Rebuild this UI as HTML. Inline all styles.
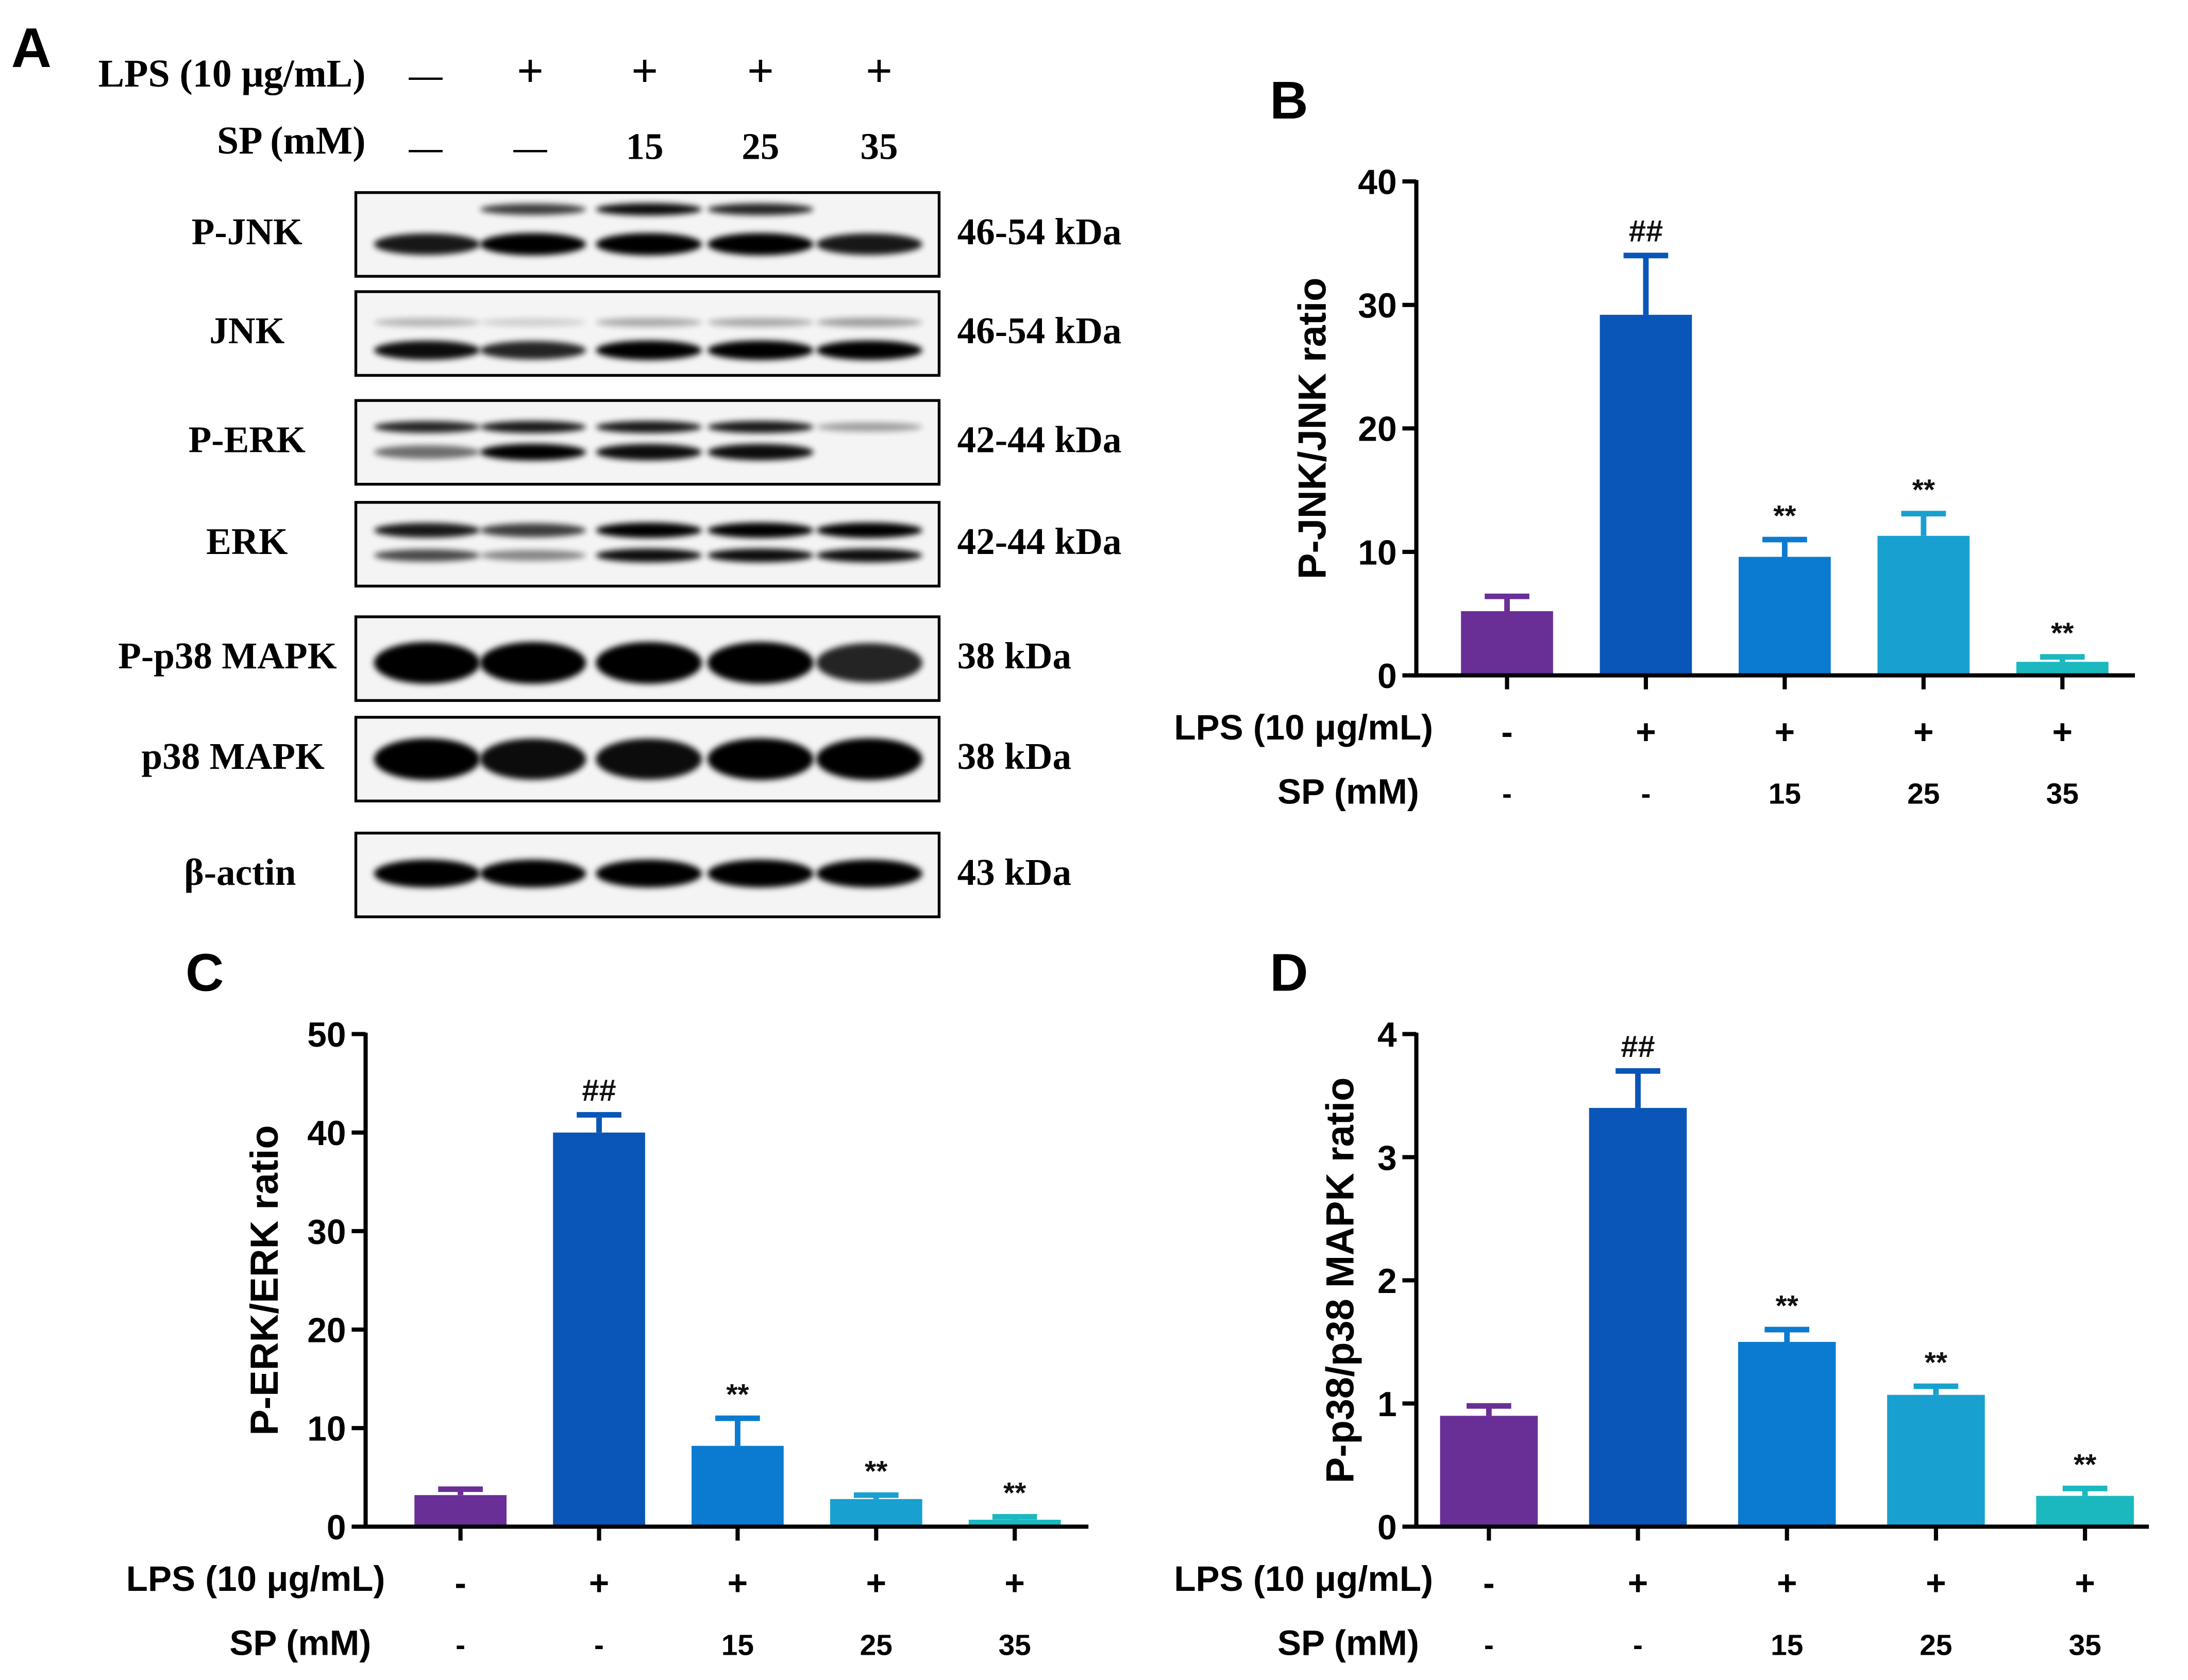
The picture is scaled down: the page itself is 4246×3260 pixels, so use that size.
<!DOCTYPE html>
<html><head><meta charset="utf-8"><style>
html,body{margin:0;padding:0;background:#fff;}
svg{display:block;}
.ser{font-family:"Liberation Serif",serif;font-weight:bold;}
.san{font-family:"Liberation Sans",sans-serif;font-weight:bold;}
</style></head><body>
<svg id="fig" width="4246" height="3260" viewBox="0 0 1568 1203.9" xmlns="http://www.w3.org/2000/svg">
<defs>
<filter id="blur" x="-20%" y="-50%" width="140%" height="200%"><feGaussianBlur stdDeviation="2.2"/></filter>
</defs>
<rect width="1600" height="1220" fill="#fff"/>
<g id="panelA"></g>
<g id="panelB"></g>
<g id="panelC"></g>
<g id="panelD"></g>
</svg>
<script>
const NS="http://www.w3.org/2000/svg";
function mk(parent,tag,attrs,text){const e=document.createElementNS(NS,tag);for(const k in attrs)e.setAttribute(k,attrs[k]);if(text!==undefined)e.textContent=text;parent.appendChild(e);return e;}

// ---- chart data ----
const lpsLabels=["-","+","+","+","+"];
const spLabels=["-","-","15","25","35"];
const colors=["#6a2f96","#0a55b8","#0a7bd0","#18a0d0","#1bb8c0"];
const jnkValues=[5.2,29.2,9.6,11.3,1.1];
const jnkErrors=[1.2,4.8,1.4,1.8,0.4];
const jnkMarks=["","##","**","**","**"];
const jnkTicks=[0,10,20,30,40];
const erkValues=[3.2,40,8.2,2.8,0.7];
const erkErrors=[0.6,1.8,2.8,0.4,0.3];
const erkMarks=["","##","**","**","**"];
const erkTicks=[0,10,20,30,40,50];
const p38Values=[0.9,3.4,1.5,1.07,0.25];
const p38Errors=[0.08,0.3,0.1,0.07,0.06];
const p38Marks=["","##","**","**","**"];
const p38Ticks=[0,1,2,3,4];

function chart(g,cfg){
  const ymax=cfg.ticks[cfg.ticks.length-1];
  const y=v=>cfg.y0-(v/ymax)*(cfg.y0-cfg.y1);
  const x=i=>cfg.xs+i*cfg.dx;
  mk(g,"text",{x:cfg.lx,y:cfg.ly,"font-size":38,class:"san",},cfg.letter);
  cfg.values.forEach((v,i)=>{
    const cx=x(i);
    const top=y(v+cfg.errors[i]);
    const b=mk(g,"rect",{x:cx-cfg.bw/2,y:y(v),width:cfg.bw,height:cfg.y0-y(v),fill:colors[i]});
    
    
    const e=mk(g,"path",{d:`M${cx} ${y(v)}V${top}M${cx-16} ${top}H${cx+16}`,stroke:colors[i],"stroke-width":4,fill:"none"});
    
    
    if(cfg.marks[i]){const t=mk(g,"text",{x:cx,y:top-10,"text-anchor":"middle","font-size":cfg.marks[i]=="##"?22:21,class:"san",fill:"#111"},cfg.marks[i]);
      
      }
    mk(g,"line",{x1:cx,y1:cfg.y0,x2:cx,y2:cfg.y0+10,stroke:"#000","stroke-width":3});
    const l=mk(g,"text",{x:cx,y:cfg.y0+49,"text-anchor":"middle","font-size":25,class:"san"},lpsLabels[i]);
    
    
    const s=mk(g,"text",{x:cx,y:cfg.y0+92,"text-anchor":"middle","font-size":21,class:"san"},spLabels[i]);
    
    
  });
  mk(g,"line",{x1:cfg.ax,y1:cfg.y1-1,x2:cfg.ax,y2:cfg.y0+1.5,stroke:"#000","stroke-width":3,});
  mk(g,"line",{x1:cfg.ax-1.5,y1:cfg.y0,x2:cfg.xe,y2:cfg.y0,stroke:"#000","stroke-width":3,});
  cfg.ticks.forEach(t=>{
    mk(g,"line",{x1:cfg.ax-10,y1:y(t),x2:cfg.ax,y2:y(t),stroke:"#000","stroke-width":3});
    const tl=mk(g,"text",{x:cfg.ax-14,y:y(t)+9,"text-anchor":"end","font-size":25,class:"san"},t);
    
    
  });
  mk(g,"text",{transform:`translate(${cfg.tx},${(cfg.y0+cfg.y1)/2}) rotate(-90)`,"text-anchor":"middle","font-size":28,class:"san",},cfg.title);
  mk(g,"text",{x:cfg.lpx,y:cfg.y0+46,"text-anchor":"end","font-size":25.5,class:"san",},"LPS (10 μg/mL)");
  mk(g,"text",{x:cfg.lpx-10,y:cfg.y0+92,"text-anchor":"end","font-size":25.5,class:"san",},"SP (mM)");
}
chart(document.getElementById("panelB"),{letter:"B",lx:910,ly:85,values:jnkValues,errors:jnkErrors,marks:jnkMarks,ticks:jnkTicks,y0:484,y1:130,ax:1015,xe:1530,xs:1080,dx:99.5,bw:66,tx:950,title:"P-JNK/JNK ratio",lpx:1027});
chart(document.getElementById("panelC"),{letter:"C",lx:133,ly:710,values:erkValues,errors:erkErrors,marks:erkMarks,ticks:erkTicks,y0:1094,y1:741,ax:262,xe:780,xs:330,dx:99.3,bw:66,tx:199,title:"P-ERK/ERK ratio",lpx:276});
chart(document.getElementById("panelD"),{letter:"D",lx:910,ly:710,values:p38Values,errors:p38Errors,marks:p38Marks,ticks:p38Ticks,y0:1094,y1:741,ax:1015,xe:1540,xs:1067,dx:106.8,bw:70,tx:970,title:"P-p38/p38 MAPK ratio",lpx:1027});

// ---- panel A blot ----
const A=document.getElementById("panelA");
mk(A,"text",{x:8,y:48,"font-size":40,class:"san"},"A");
mk(A,"text",{x:262,y:62,"text-anchor":"end","font-size":28,class:"ser"},"LPS (10 μg/mL)");
mk(A,"text",{x:262,y:110,"text-anchor":"end","font-size":28,class:"ser"},"SP (mM)");
const lanes=[305,380,462,545,630];
const lpsA=["—","+","+","+","+"], spA=["—","—","15","25","35"];
lanes.forEach((lx,i)=>{
  mk(A,"text",{x:lx,y:62,"text-anchor":"middle","font-size":i?34:24,class:"ser"},lpsA[i]);
  mk(A,"text",{x:lx,y:114,"text-anchor":"middle","font-size":spA[i].length>1&&spA[i]!="—"?27:24,class:"ser"},spA[i]);
});
const blotNames=["P-JNK","JNK","P-ERK","ERK","P-p38 MAPK","p38 MAPK","β-actin"];
const blotKda=["46-54 kDa","46-54 kDa","42-44 kDa","42-44 kDa","38 kDa","38 kDa","43 kDa"];
const blotTop=[138,209,287,360,442,514,597];
const laneCx=[306,382,465,545,623];
const bands=[
 [[37,16,[0.9,1,1,1,0.9]],[12,9,[0,0.75,0.95,0.85,0]]],
 [[42,14,[0.95,0.85,1,1,1]],[22,9,[0.25,0.15,0.3,0.3,0.35]]],
 [[19,9,[0.85,0.9,0.9,0.9,0.35]],[37,12,[0.55,1,0.95,0.95,0]]],
 [[20,11,[0.9,0.75,1,1,1]],[38,10,[0.7,0.45,0.95,0.95,0.95]]],
 [[33,30,[1,1,1,1,0.85]]],
 [[30,30,[1,0.95,0.95,1,1]]],
 [[29,20,[1,1,1,1,1]]]
];
blotTop.forEach((t,k)=>{
  const g=mk(A,"g",{});
  
  
  mk(g,"rect",{x:255,y:t,width:418,height:60,fill:"#f4f4f4"});
  bands[k].forEach(b=>{
    laneCx.forEach((cx,i)=>{
      if(b[2][i]>0){const o=b[2][i];mk(g,"ellipse",{cx:cx,cy:t+b[0],rx:38,ry:b[1]/2*(0.6+0.4*o),fill:"#000",opacity:o,filter:"url(#blur)"});}
    });
  });
  mk(g,"rect",{x:255,y:t,width:418,height:60,fill:"none",stroke:"#000","stroke-width":2});
  mk(g,"text",{x:k>=4&&k<6?(k==4?163:167):(k==6?172:177),y:t+37,"text-anchor":"middle","font-size":27,class:"ser"},blotNames[k]);
  mk(g,"text",{x:686,y:t+37,"font-size":27,class:"ser"},blotKda[k]);
});
</script>
</body></html>
